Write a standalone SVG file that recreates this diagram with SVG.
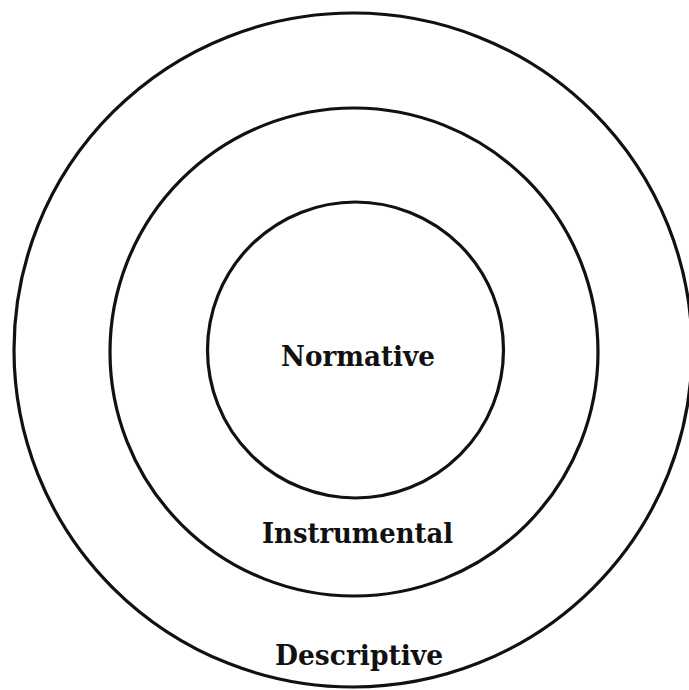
<svg xmlns="http://www.w3.org/2000/svg" width="689" height="690" viewBox="0 0 689 690">
<style>
.ring{fill:none;stroke:#111;stroke-width:3.2}
.lbl{font-family:"DejaVu Serif","Liberation Serif",serif;font-weight:bold;font-size:27px;fill:#111}
</style>
<rect width="689" height="690" fill="#fff"/>
<g id="descriptive">
<ellipse class="ring" cx="353" cy="350" rx="339" ry="337"/>
<text class="lbl" x="275" y="665" textLength="168" lengthAdjust="spacingAndGlyphs">Descriptive</text>
</g>
<g id="instrumental">
<circle class="ring" cx="354" cy="352" r="244"/>
<text class="lbl" x="262" y="543" textLength="191" lengthAdjust="spacingAndGlyphs">Instrumental</text>
</g>
<g id="normative">
<circle class="ring" cx="355.5" cy="350" r="148"/>
<text class="lbl" x="281" y="366" textLength="154" lengthAdjust="spacingAndGlyphs">Normative</text>
</g>
<g id="connectors"/>
</svg>
